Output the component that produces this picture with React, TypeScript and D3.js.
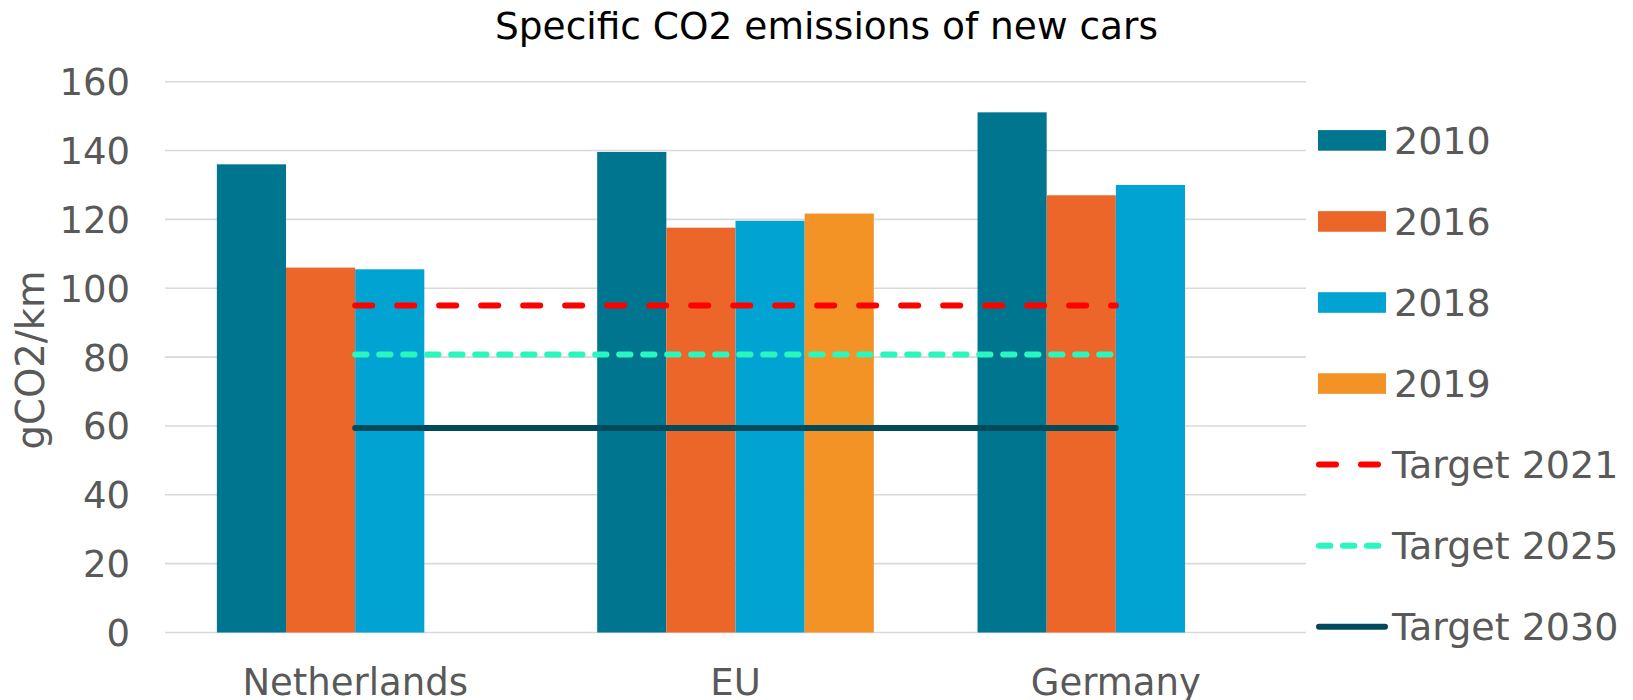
import React from "react";
import * as d3 from "d3";

const categories = ["Netherlands", "EU", "Germany"];
const barSeries = ["2010", "2016", "2018", "2019"];
const values2010 = [136, 139.6, 151.1];
const values2016 = [106, 117.6, 127];
const values2018 = [105.5, 119.6, 130];
const values2019: (number | null)[] = [null, 121.7, null];
const target2021 = [95, 95, 95];
const target2025 = [80.75, 80.75, 80.75];
const target2030 = [59.4, 59.4, 59.4];
const yTicks = [0, 20, 40, 60, 80, 100, 120, 140, 160];
const title = "Specific CO2 emissions of new cars";
const yLabel = "gCO2/km";

const barColors = ["#007590", "#EB6628", "#00A3D2", "#F39325"];
const lineSeries = [
  { name: "Target 2021", values: target2021, color: "#FF0000", dash: "17 25" },
  { name: "Target 2025", values: target2025, color: "#2AF7BE", dash: "11.3 12.7" },
  { name: "Target 2030", values: target2030, color: "#004A5B", dash: null as string | null },
];

const W = 1633;
const H = 700;
const plot = { left: 165, right: 1306, top: 81.7, bottom: 632.5 };
const FONT = "'DejaVu Sans', Verdana, sans-serif";
const TXT = "#595959";

export default function App() {
  const barValues = [values2010, values2016, values2018, values2019];
  const x = d3.scaleBand<string>().domain(categories).range([plot.left, plot.right]).paddingInner(0).paddingOuter(0);
  const y = d3.scaleLinear().domain([0, 160]).range([plot.bottom, plot.top]);
  const band = x.bandwidth();
  const barW = band / 5.5;
  const inner = d3.scaleBand<string>().domain(barSeries).range([band / 2 - 2 * barW, band / 2 + 2 * barW]);
  const line = d3
    .line<number>()
    .x((_, i) => (x(categories[i]) as number) + band / 2)
    .y((d) => y(d));

  const legendX = 1318;
  const legendY0 = 140.4;
  const legendStep = 81.05;

  return (
    <div style={{ position: "absolute", left: 0, top: 0 }}>
      <svg width={W} height={H} style={{ display: "block" }}>
        <rect width={W} height={H} fill="#fff" />
        <text x={826.5} y={39} textAnchor="middle" fontFamily={FONT} fontSize={37.5} fill="#000">
          {title}
        </text>
        {yTicks.map((t) => (
          <g key={t}>
            <line x1={plot.left} x2={plot.right} y1={y(t)} y2={y(t)} stroke="#D9D9D9" strokeWidth={1.6} />
            <text x={130} y={y(t) + 13.5} textAnchor="end" fontFamily={FONT} fontSize={37} fill={TXT}>
              {t}
            </text>
          </g>
        ))}
        {categories.map((c, ci) =>
          barSeries.map((s, si) => {
            const v = barValues[si][ci];
            if (v == null) return null;
            const bx = (x(c) as number) + (inner(s) as number);
            return (
              <rect key={c + s} x={bx} y={y(v)} width={inner.bandwidth()} height={y(0) - y(v)} fill={barColors[si]} />
            );
          })
        )}
        {lineSeries.map((l) => (
          <path
            key={l.name}
            d={line(l.values) || ""}
            fill="none"
            stroke={l.color}
            strokeWidth={6}
            strokeLinecap="round"
            strokeDasharray={l.dash || undefined}
          />
        ))}
        {categories.map((c) => (
          <text key={c} x={(x(c) as number) + band / 2} y={694.5} textAnchor="middle" fontFamily={FONT} fontSize={37} fill={TXT}>
            {c}
          </text>
        ))}
        <text
          transform={`translate(44,360) rotate(-90)`}
          textAnchor="middle"
          fontFamily={FONT}
          fontSize={38.5}
          fill={TXT}
        >
          {yLabel}
        </text>
        {barSeries.map((s, i) => {
          const cy = legendY0 + i * legendStep;
          return (
            <g key={s}>
              <rect x={legendX} y={cy - 10.3} width={68} height={20.6} fill={barColors[i]} />
              <text x={1394} y={cy + 13.7} fontFamily={FONT} fontSize={38} fill={TXT}>
                {s}
              </text>
            </g>
          );
        })}
        {lineSeries.map((l, i) => {
          const cy = legendY0 + (i + 4) * legendStep;
          return (
            <g key={l.name}>
              <line
                x1={1319}
                x2={1385}
                y1={cy}
                y2={cy}
                stroke={l.color}
                strokeWidth={6}
                strokeLinecap="round"
                strokeDasharray={l.dash || undefined}
              />
              <text x={1392} y={cy + 13.7} fontFamily={FONT} fontSize={38} fill={TXT}>
                {l.name}
              </text>
            </g>
          );
        })}
      </svg>
    </div>
  );
}
